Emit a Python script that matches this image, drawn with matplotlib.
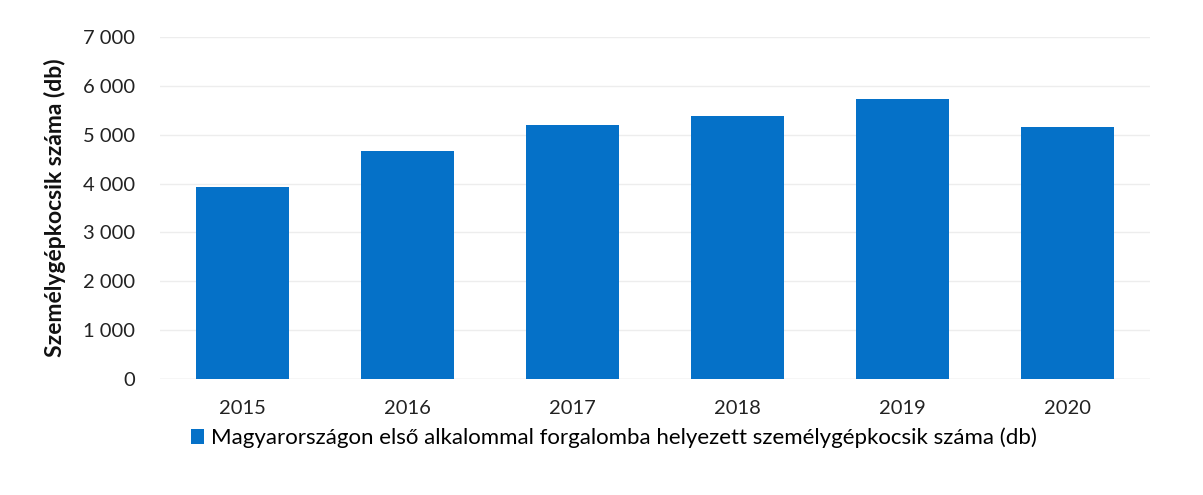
import numpy as np
import matplotlib.pyplot as plt
from matplotlib.ticker import FuncFormatter

# Adatok
evek = ['2015', '2016', '2017', '2018', '2019', '2020']
db = [3920, 4660, 5190, 5380, 5740, 5150]
label = 'Magyarországon első alkalommal forgalomba helyezett személygépkocsik száma (db)'

plt.rcParams['font.family'] = ['Lato', 'DejaVu Sans']

fig = plt.figure(figsize=(12.03, 4.95), dpi=100)
ax = fig.add_axes([0.133, 0.235, 0.823, 0.69])

x = np.arange(len(evek))
ax.bar(x, db, width=0.56, color='#0571C8', label=label, zorder=3)

ax.set_xlim(-0.5, len(evek) - 0.5)
ax.set_ylim(0, 7000)
ax.set_yticks(np.arange(0, 7001, 1000))
ax.yaxis.set_major_formatter(FuncFormatter(lambda v, p: f'{int(v):,}'.replace(',', ' ')))
ax.set_xticks(x)
ax.set_xticklabels(evek)
ax.tick_params(axis='both', length=0, labelsize=14.5, colors='#222222')
ax.tick_params(axis='x', pad=15)
ax.tick_params(axis='y', pad=18)
ax.grid(axis='y', color='#EDEDED', linewidth=1, zorder=0)
for s in ax.spines.values():
    s.set_visible(False)
ax.axhline(0, color='#E4E4E4', linewidth=1, zorder=2)

ax.set_ylabel('Személygépkocsik száma (db)', fontsize=16.5, fontweight='bold',
              color='#111111', labelpad=12)

fig.legend(loc='center', bbox_to_anchor=(0.51, 0.115), frameon=False,
           fontsize=16, handlelength=0.6, handleheight=0.6, handletextpad=0.3)

fig.savefig('out.png', dpi=100)
